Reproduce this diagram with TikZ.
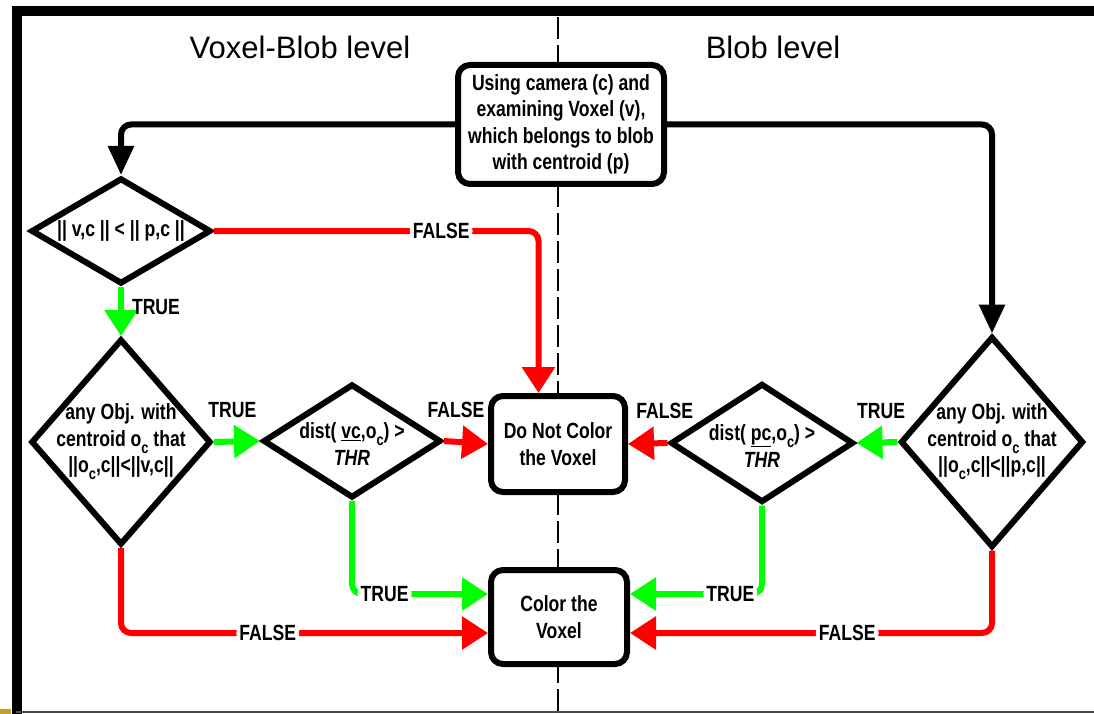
\documentclass[tikz,border=0pt]{standalone}
\usepackage{fontspec}
\setmainfont{Liberation Sans}
\newfontfamily\narrowfont[FakeStretch=0.8]{Liberation Sans}
\usetikzlibrary{shapes.geometric,arrows.meta}

\definecolor{truegreen}{RGB}{0,255,0}
\definecolor{falsered}{RGB}{255,0,0}
\definecolor{cornergold}{RGB}{200,160,40}

\newcommand{\lowc}{\raisebox{-0.6ex}{\fontsize{16}{16}\selectfont c}}

\tikzset{
	txt/.style={font=\narrowfont\bfseries\fontsize{22}{26.5}\selectfont, align=center},
	box/.style={txt, draw, line width=6pt, fill=white, rounded corners=12pt, inner sep=0pt},
	decision/.style={draw, diamond, line width=6pt, fill=white, inner sep=0pt},
	flow/.style={line width=6pt, rounded corners=10pt},
	truearrow/.style={flow, truegreen, -{Triangle[length=26pt,width=32pt]}},
	falsearrow/.style={flow, falsered, -{Triangle[length=26pt,width=32pt]}},
	blackarrow/.style={flow, -{Triangle[length=29pt,width=25pt]}},
	lbl/.style={txt, text=black, fill=white, inner sep=3pt},
	lblfree/.style={txt, text=black, inner sep=2pt},
	title/.style={font=\fontsize{31}{31}\selectfont}
}

\begin{document}
\begin{tikzpicture}[x=1pt, y=-1pt]
		\useasboundingbox (0,0) rectangle (1094,714);

		% frame and middle line
		\draw[line width=10pt] (16.5,714) -- (16.5,11) -- (1094,11);
		\draw[line width=2pt, black!70] (16,712) -- (1094,712);
		\fill[cornergold] (0,709) rectangle (11,714);
		\draw[line width=1.5pt, dash pattern=on 22pt off 6pt] (558,17) -- (558,712);

		\node[title] (voxelblob) at (300,47) {Voxel-Blob level};
		\node[title] (blob) at (773,47) {Blob level};

		% boxes
		\node[box, minimum width=206pt, minimum height=119pt] (start) at (561,124.5)
			{Using camera (c) and\\examining Voxel (v),\\which belongs to blob\\with centroid (p)};
		\node[box, minimum width=134pt, minimum height=96pt] (nocolor) at (558,444) {Do Not Color\\the Voxel};
		\node[box, minimum width=136pt, minimum height=94pt] (color) at (559,617) {Color the\\Voxel};

		% decisions
		\node[decision, minimum width=180pt, minimum height=106pt,
			label={[txt]center:{|| v,c || < || p,c ||}}] (nearer) at (121,231) {};
		\node[decision, minimum width=180pt, minimum height=206pt,
			label={[txt]center:{any Obj. with\\centroid o\lowc{} that\\||o\lowc,c||<||v,c||}}] (objv) at (121,442) {};
		\node[decision, minimum width=178pt, minimum height=114pt,
			label={[txt, yshift=-3pt]center:{dist( \underline{vc},o\lowc) >\\\itshape THR}}] (distv) at (352,441) {};
		\node[decision, minimum width=183pt, minimum height=119pt,
			label={[txt, yshift=-3pt]center:{dist( \underline{pc},o\lowc) >\\\itshape THR}}] (distp) at (762,443) {};
		\node[decision, minimum width=183pt, minimum height=211pt,
			label={[txt]center:{any Obj. with\\centroid o\lowc{} that\\||o\lowc,c||<||p,c||}}] (objp) at (992,442) {};

		% connectors
		\draw[blackarrow] (start.west) -| (nearer.north);
		\draw[blackarrow] (start.east) -| (objp.north);

		\draw[falsearrow] (nearer.east) -| node[lbl, pos=0.35] {FALSE} ([xshift=-19.5pt]nocolor.north);
		\draw[truearrow] (nearer.south) -- node[lblfree, right=6pt, pos=0.4] {TRUE} (objv.north);

		\draw[truearrow] (objv.east) -- node[lblfree, above=19pt, pos=0.4] {TRUE} (distv.west);
		\draw[falsearrow] (distv.east) -- node[lblfree, above=19pt, pos=0.27] {FALSE} (nocolor.west);
		\draw[truearrow] (objp.west) -- node[lblfree, above=19pt, pos=0.4] {TRUE} (distp.east);
		\draw[falsearrow] (distp.west) -- node[lblfree, above=19pt, pos=0.07] {FALSE} (nocolor.east);

		\draw[truearrow] (distv.south) |- node[lbl, pos=0.62] {TRUE} ([yshift=23pt]color.west);
		\draw[falsearrow] (objv.south) |- node[lbl, pos=0.7] {FALSE} ([yshift=-16pt]color.west);
		\draw[truearrow] (distp.south) |- node[lbl, pos=0.62] {TRUE} ([yshift=23pt]color.east);
		\draw[falsearrow] (objp.south) |- node[lbl, pos=0.7] {FALSE} ([yshift=-16pt]color.east);
\end{tikzpicture}
\end{document}
